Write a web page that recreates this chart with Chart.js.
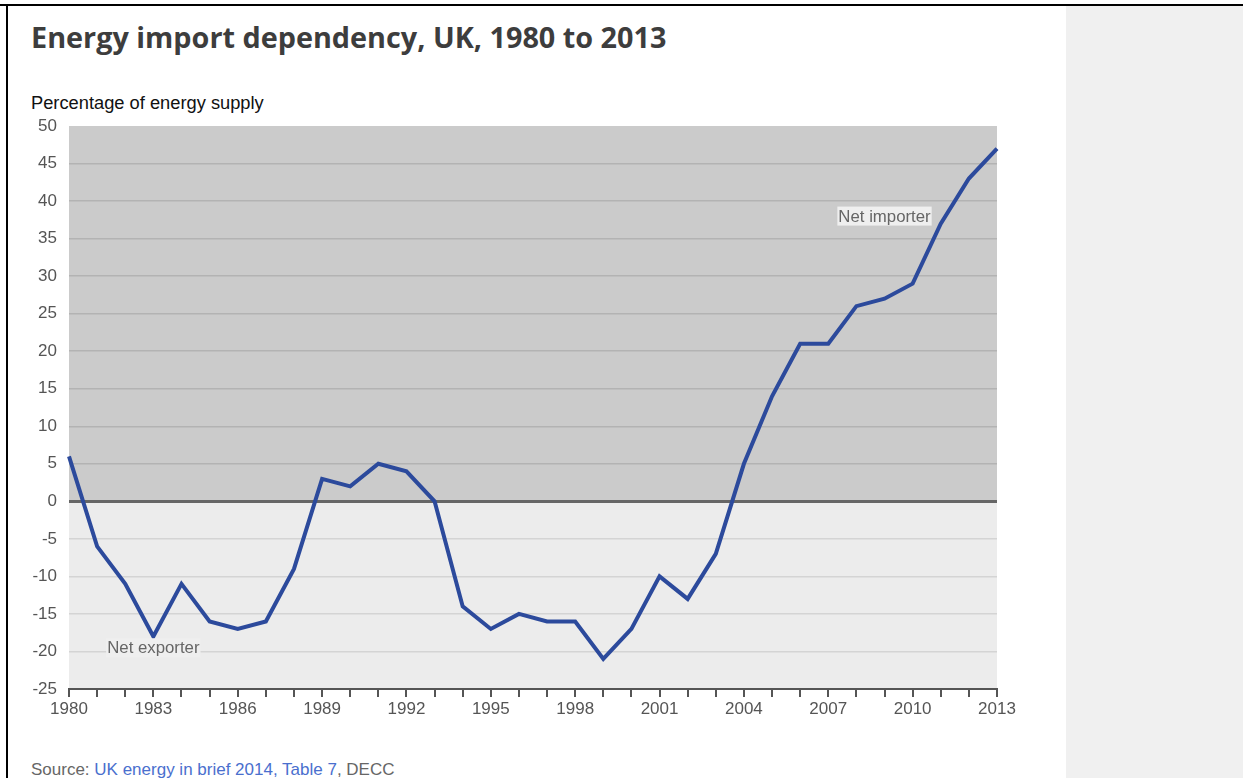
<!DOCTYPE html>
<html>
<head>
<meta charset="utf-8">
<script src="https://cdn.jsdelivr.net/npm/chart.js@4"></script>
<style>
  html, body { margin: 0; padding: 0; background: #fff; }
  #page { position: relative; width: 1243px; height: 778px; overflow: hidden; background: #fff; }
  #topline { position: absolute; left: 0; top: 4px; width: 1243px; height: 2px; background: #000; }
  #leftline { position: absolute; left: 6px; top: 4px; width: 2px; height: 774px; background: #000; }
  #side { position: absolute; left: 1066px; top: 6px; width: 177px; height: 772px; background: #f0f0f0; }
  #title { position: absolute; left: 31px; top: 17px; font: 700 28.8px "Open Sans", sans-serif; color: #3d3d3d; white-space: nowrap; }
  #ylabel { position: absolute; left: 31px; top: 92px; font: 18.3px "Liberation Sans", Arial, sans-serif; color: #111; white-space: nowrap; }
  #source { position: absolute; left: 31px; top: 760px; font: 17px "Liberation Sans", Arial, sans-serif; color: #666; white-space: nowrap; }
  #source span { color: #4a6fce; }
  canvas { position: absolute; left: 0; top: 0; }
</style>
</head>
<body>
<div id="page">
  <div id="side"></div>
  <div id="topline"></div>
  <div id="leftline"></div>
  <div id="title">Energy import dependency, UK, 1980 to 2013</div>
  <div id="ylabel">Percentage of energy supply</div>
  <div id="source">Source: <span>UK energy in brief 2014, Table 7</span>, DECC</div>
  <canvas id="chart" width="1243" height="778"></canvas>
</div>
<script>
// Datos: dependencia de importaciones de energía (%)
const years = ['1980','1981','1982','1983','1984','1985','1986','1987','1988','1989',
  '1990','1991','1992','1993','1994','1995','1996','1997','1998','1999',
  '2000','2001','2002','2003','2004','2005','2006','2007','2008','2009',
  '2010','2011','2012','2013'];
const dependency = [6, -6, -11, -18, -11, -16, -17, -16, -9, 3,
  2, 5, 4, 0, -14, -17, -15, -16, -16, -21,
  -17, -10, -13, -7, 5, 14, 21, 21, 26, 27,
  29, 37, 43, 47];
const yMin = -25;
const yMax = 50;
const yStep = 5;
const notes = [
  { text: 'Net exporter', year: '1983', value: -19.5 },
  { text: 'Net importer', year: '2009', value: 38 },
];

// fondo en dos bandas (importador / exportador)
const bandas = {
  id: 'bandas',
  beforeDraw(chart) {
    const { ctx, chartArea, scales } = chart;
    const y0 = scales.y.getPixelForValue(0);
    ctx.save();
    ctx.fillStyle = '#cbcbcb';
    ctx.fillRect(chartArea.left, chartArea.top, chartArea.width, y0 - chartArea.top);
    ctx.fillStyle = '#ececec';
    ctx.fillRect(chartArea.left, y0, chartArea.width, chartArea.bottom - y0);
    ctx.restore();
  },
};

// etiquetas de texto sobre el gráfico
const etiquetas = {
  id: 'etiquetas',
  afterDatasetsDraw(chart) {
    const { ctx, scales } = chart;
    ctx.save();
    ctx.font = '16.8px "Liberation Sans", Arial, sans-serif';
    ctx.textAlign = 'center';
    ctx.textBaseline = 'middle';
    notes.forEach(n => {
      const x = scales.x.getPixelForValue(years.indexOf(n.year));
      const y = scales.y.getPixelForValue(n.value);
      const w = ctx.measureText(n.text).width + 2;
      ctx.fillStyle = '#efefef';
      ctx.fillRect(x - w / 2, y - 9.5, w, 19);
      ctx.fillStyle = '#666';
      ctx.fillText(n.text, x, y + 1);
    });
    ctx.restore();
  },
};

const ctx = document.getElementById('chart').getContext('2d');
new Chart(ctx, {
  type: 'line',
  data: {
    labels: years,
    datasets: [{
      label: 'Import dependency',
      data: dependency,
      borderColor: '#2c4a9c',
      borderWidth: 4,
      pointRadius: 0,
      tension: 0,
      fill: false,
    }],
  },
  options: {
    responsive: false,
    animation: false,
    layout: { padding: { left: 0, right: 246, top: 126, bottom: 49 } },
    plugins: {
      legend: { display: false },
      tooltip: { enabled: false },
    },
    scales: {
      x: {
        offset: false,
        afterFit(scale) { scale.height = 40; },
        border: { display: true, color: '#555', width: 2 },
        grid: {
          drawOnChartArea: false,
          drawTicks: true,
          tickLength: 8,
          color: '#555',
          lineWidth: 2,
        },
        ticks: {
          autoSkip: false,
          maxRotation: 0,
          padding: 2,
          color: '#555',
          font: { family: '"Liberation Sans", Arial, sans-serif', size: 17 },
          callback(value, index) {
            return index % 3 === 0 ? years[index] : '';
          },
        },
      },
      y: {
        min: yMin,
        max: yMax,
        afterFit(scale) { scale.width = 69; },
        border: { display: false },
        grid: {
          drawTicks: false,
          color: c => {
            const v = c.tick.value;
            if (v === 0) return '#666';
            if (v === yMin || v === yMax) return 'rgba(0,0,0,0)';
            return v > 0 ? '#b3b3b3' : '#d4d4d4';
          },
          lineWidth: c => (c.tick.value === 0 ? 3 : 1.5),
        },
        ticks: {
          stepSize: yStep,
          padding: 12,
          color: '#555',
          font: { family: '"Liberation Sans", Arial, sans-serif', size: 17 },
        },
      },
    },
  },
  plugins: [bandas, etiquetas],
});
</script>
</body>
</html>
